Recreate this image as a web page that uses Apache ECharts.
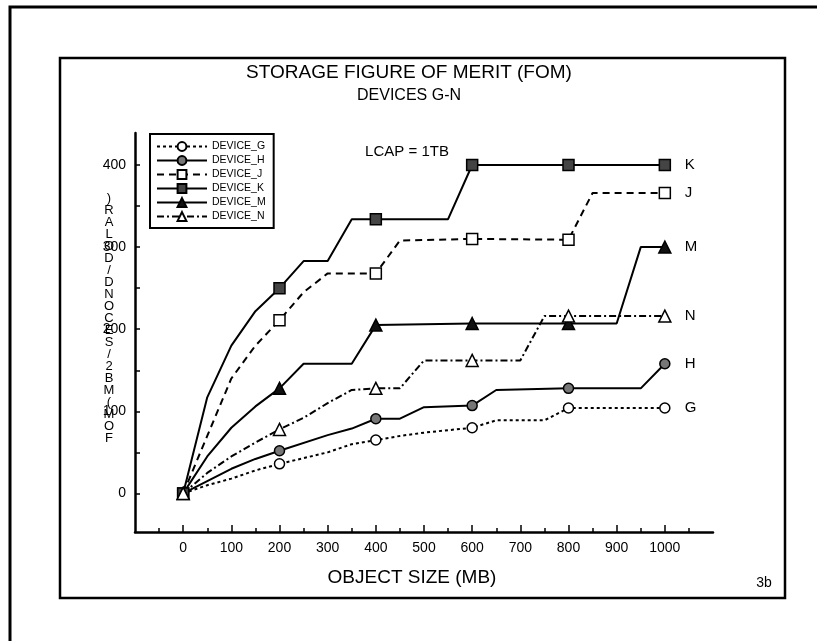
<!DOCTYPE html>
<html>
<head>
<meta charset="utf-8">
<script src="https://cdn.jsdelivr.net/npm/echarts@6/dist/echarts.min.js"></script>
<style>html,body{margin:0;padding:0;background:#fff;}#c{width:817px;height:641px;}</style>
</head>
<body>
<div id="c"></div>
<script>
// ---- data ----
const devices = ['DEVICE_G','DEVICE_H','DEVICE_J','DEVICE_K','DEVICE_M','DEVICE_N'];
const endLetters = ['G','H','J','K','M','N'];
const markerX = [0,200,400,600,800,1000];

const xG = [0,50,100,150,200,300,350,400,450,500,550,600,650,750,800,1000];
const yG = [0,10,18,28,36,50,60,65,70,74,77,80,89,89,104,104];

const xH = [0,50,100,150,200,300,350,400,450,500,600,650,800,950,1000];
const yH = [0,15,30,42,52,71,79,91,91,105,107,126,128,128,158];

const xJ = [0,50,100,150,200,250,300,400,450,600,800,850,1000];
const yJ = [0,70,140,180,211,245,268,268,308,310,309,366,366];

const xK = [0,50,100,150,200,250,300,350,400,550,600,800,1000];
const yK = [0,117,180,222,250,283,283,334,334,334,400,400,400];

const xM = [0,50,100,150,200,250,350,400,600,800,900,950,1000];
const yM = [0,45,80,106,128,158,158,205,207,207,207,300,300];

const xN = [0,50,100,150,200,250,300,350,400,450,500,600,700,750,800,1000];
const yN = [0,25,45,62,78,92,110,126,128,128,162,162,162,216,216,216];

const xMajorTicks = [0,100,200,300,400,500,600,700,800,900,1000];
const xMinorTicks = [-50,50,150,250,350,450,550,650,750,850,950,1050];
const yTicks = [0,50,100,150,200,250,300,350,400];
const yLabels = [0,100,200,300,400];

const yAxisTitle = ')RALOD/DNOCES/2BM(MOF'; // as printed (garbled, vertical)
// ---- end data ----

const FONT = '"Liberation Sans", Arial, sans-serif';
const xs = [xG,xH,xJ,xK,xM,xN];
const ys = [yG,yH,yJ,yK,yM,yN];
const styles = [
  {symbol:'circle', size:10, fill:'#fff', dash:[3,3]},
  {symbol:'circle', size:10, fill:'#777', dash:'solid'},
  {symbol:'rect', size:11, fill:'#fff', dash:[7,5]},
  {symbol:'rect', size:11, fill:'#444', dash:'solid'},
  {symbol:'triangle', size:12, fill:'#111', dash:'solid'},
  {symbol:'triangle', size:12, fill:'#fff', dash:[7,3,2,3]}
];

const series = devices.map((name,i)=>{
  const st = styles[i];
  return {
    name, type:'line', xAxisIndex:0, yAxisIndex:0,
    symbol: st.symbol, symbolSize: st.size, showSymbol:true, showAllSymbol:true,
    itemStyle:{color: st.fill, borderColor:'#000', borderWidth:1.5},
    lineStyle:{color:'#000', width:2, type: st.dash},
    data: xs[i].map((x,k)=>({value:[x, ys[i][k]], symbol: markerX.indexOf(x)>=0 ? st.symbol : 'none'})),
    endLabel:{show:true, formatter: endLetters[i], distance:20, color:'#000', fontSize:15, fontFamily:FONT},
    animation:false
  };
});

const chart = echarts.init(document.getElementById('c'), null, {renderer:'canvas'});
chart.setOption({
  backgroundColor:'#fff',
  animation:false,
  grid:{left:135, top:133, right:104, bottom:109, containLabel:false},
  legend:{
    data: devices, orient:'vertical', left:150, top:134,
    itemWidth:50, itemHeight:11, itemGap:3, padding:[7,8,6,6],
    borderColor:'#000', borderWidth:2,
    textStyle:{color:'#000', fontSize:10.5, fontFamily:FONT},
    selectedMode:false
  },
  xAxis:[{
    type:'value', min:-100, max:1100,
    axisLine:{onZero:false, lineStyle:{color:'#000', width:2.5}},
    axisTick:{inside:true, length:7, lineStyle:{color:'#000', width:1.5}, customValues:xMajorTicks},
    axisLabel:{customValues:xMajorTicks, formatter:(v)=>String(v), color:'#000', fontSize:14, fontFamily:FONT, margin:9},
    splitLine:{show:false}
  },{
    type:'value', min:-100, max:1100, position:'bottom',
    axisLine:{show:false, onZero:false},
    axisTick:{inside:true, length:4, lineStyle:{color:'#000', width:1.5}, customValues:xMinorTicks},
    axisLabel:{show:false},
    splitLine:{show:false}
  }],
  yAxis:{
    type:'value', min:-47, max:439,
    axisLine:{onZero:false, lineStyle:{color:'#000', width:2.5}},
    axisTick:{inside:true, length:5, lineStyle:{color:'#000', width:1.5}, customValues:yTicks},
    axisLabel:{customValues:yLabels, formatter:(v)=>String(v), color:'#000', fontSize:14, fontFamily:FONT, margin:9},
    splitLine:{show:false}
  },
  graphic:[
    {type:'rect', shape:{x:10, y:7, width:840, height:680}, style:{fill:null, stroke:'#000', lineWidth:3}, silent:true},
    {type:'rect', shape:{x:60, y:58, width:725, height:540}, style:{fill:null, stroke:'#000', lineWidth:2.5}, silent:true},
    {type:'text', x:409, y:73, style:{text:'STORAGE FIGURE OF MERIT (FOM)', font:'19px '+FONT, fill:'#000', textAlign:'center', textVerticalAlign:'middle'}},
    {type:'text', x:409, y:96, style:{text:'DEVICES G-N', font:'16px '+FONT, fill:'#000', textAlign:'center', textVerticalAlign:'middle'}},
    {type:'text', x:407, y:152, style:{text:'LCAP = 1TB', font:'15px '+FONT, fill:'#000', textAlign:'center', textVerticalAlign:'middle'}},
    {type:'text', x:412, y:578, style:{text:'OBJECT SIZE (MB)', font:'19px '+FONT, fill:'#000', textAlign:'center', textVerticalAlign:'middle'}},
    {type:'text', x:764, y:583, style:{text:'3b', font:'14px '+FONT, fill:'#000', textAlign:'center', textVerticalAlign:'middle'}},
    {type:'text', x:109, y:192, style:{text: yAxisTitle.split('').join('\n'), font:'13px '+FONT, lineHeight:12, fill:'#000', textAlign:'center', textVerticalAlign:'top'}}
  ],
  series
});
</script>
</body>
</html>
